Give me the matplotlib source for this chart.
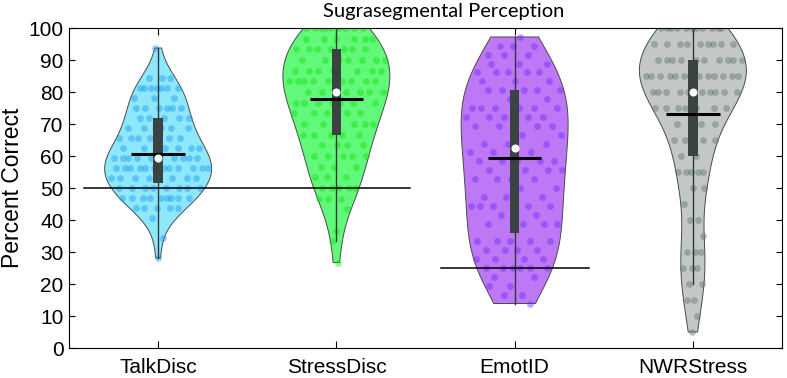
import numpy as np
import matplotlib
matplotlib.use("Agg")
import matplotlib.pyplot as plt

# ---------------- data ----------------
categories = ["TalkDisc", "StressDisc", "EmotID", "NWRStress"]

talk_levels = [93.75, 84.4, 81.25, 78.1, 75.0, 71.9, 68.75, 65.6, 62.5, 59.4, 56.25,
               53.1, 50.0, 46.9, 43.75, 40.6, 34.4, 28.1]
talk_counts = [1, 3, 7, 3, 6, 5, 6, 6, 7, 10, 12, 8, 8, 9, 5, 1, 1, 1]

stress_levels = [100.0, 96.7, 93.3, 90.0, 86.7, 83.3, 80.0, 76.7, 73.3, 70.0, 66.7,
                 63.3, 60.0, 56.7, 53.3, 50.0, 46.7, 43.3, 36.7, 33.3, 26.7]
stress_counts = [9, 6, 7, 7, 7, 10, 6, 7, 5, 6, 5, 4, 5, 3, 3, 5, 3, 1, 1, 1, 1]

emot_levels = [97.2, 94.4, 91.7, 88.9, 86.1, 83.3, 80.6, 77.8, 75.0, 72.2, 69.4, 66.7,
               63.9, 61.1, 58.3, 55.6, 52.8, 50.0, 47.2, 44.4, 41.7, 38.9, 33.3, 30.6,
               27.8, 25.0, 22.2, 19.4, 16.7, 13.9]
emot_counts = [1, 3, 3, 3, 5, 3, 5, 2, 6, 5, 5, 2, 3, 3, 5, 4, 4, 2, 3, 6, 2, 4, 5, 4,
               4, 6, 2, 2, 2, 1]

nwr_levels = [100, 95, 90, 85, 80, 75, 70, 65, 60, 55, 50, 45, 40, 35, 30, 25, 20, 15, 10, 5]
nwr_counts = [11, 9, 10, 14, 10, 7, 4, 4, 2, 5, 2, 1, 2, 1, 3, 3, 2, 2, 1, 1]

means = [60.7, 77.7, 59.4, 73.0]
medians = [59.4, 80.0, 62.5, 80.0]
q1 = [51.5, 66.5, 36.0, 60.0]
q3 = [72.0, 93.3, 80.5, 90.0]
whisker_lo = [28.1, 33.3, 13.9, 20.0]
whisker_hi = [93.75, 100.0, 97.2, 100.0]

# chance levels: (level, first category index, last category index)
chance_level = [50, 25]
chance_first = [0, 2]
chance_last = [1, 2]

yticks = list(range(0, 101, 10))
title = "Sugrasegmental Perception"
ylabel = "Percent Correct"

# ---------------- style ----------------
fill_colors = ["#8ee8fc", "#62f97a", "#be78f5", "#c3c8c5"]
point_colors = ["#1a96f0", "#10e010", "#6a28ff", "#5a706b"]

level_sets = [talk_levels, stress_levels, emot_levels, nwr_levels]
count_sets = [talk_counts, stress_counts, emot_counts, nwr_counts]

plt.rcParams["font.family"] = ["Liberation Sans", "DejaVu Sans"]

fig = plt.figure(figsize=(7.87, 3.78), dpi=100)
ax = fig.add_axes([69 / 787, 30 / 378, (782 - 69) / 787, (348 - 28) / 378])

half_width = 0.30
for i, (lv, ct) in enumerate(zip(level_sets, count_sets)):
    pos = i + 1
    data = np.repeat(np.array(lv, float), ct)
    n = len(data)
    med = np.median(data)
    sig = np.median(np.abs(data - med)) / 0.6745
    h = sig * (4.0 / (3.0 * n)) ** 0.2
    grid = np.linspace(data.min(), data.max(), 300)
    dens = np.exp(-0.5 * ((grid[:, None] - data[None, :]) / h) ** 2).sum(axis=1)
    dens = dens / dens.max() * half_width
    xs = np.concatenate([pos + dens, (pos - dens)[::-1]])
    ys = np.concatenate([grid, grid[::-1]])
    ax.fill(xs, ys, facecolor=fill_colors[i], edgecolor="#4a4a4a", linewidth=0.7, zorder=1)

    # deterministic jitter inside the violin
    k = np.arange(n)
    u = (np.mod(k * 0.6180339887 + 0.31 * i, 1.0) * 2 - 1)
    local = np.interp(data, grid, dens)
    ax.scatter(pos + u * local * 0.95, data, s=24, color=point_colors[i], alpha=0.42,
               linewidths=0, zorder=2)

    # whisker line
    ax.plot([pos, pos], [whisker_lo[i], whisker_hi[i]], color="#2e3838", lw=1.0, zorder=3)
    # box (IQR)
    ax.fill_between([pos - 0.026, pos + 0.026], q1[i], q3[i], color="#3a4242",
                    linewidth=0, zorder=4)
    # mean
    ax.plot([pos - 0.15, pos + 0.15], [means[i], means[i]], color="black", lw=2.2,
            solid_capstyle="butt", zorder=5)
    # median
    ax.plot([pos], [medians[i]], "o", color="white", markersize=5.8,
            markeredgewidth=0, zorder=6)

for lvl, a, b in zip(chance_level, chance_first, chance_last):
    ax.plot([a + 1 - 0.415, b + 1 + 0.415], [lvl, lvl], color="black", lw=1.1, zorder=3.5)

ax.set_xlim(0.5, 4.5)
ax.set_ylim(0, 100)
ax.set_xticks(range(1, len(categories) + 1))
ax.set_xticklabels(categories, fontsize=15)
ax.set_yticks(yticks)
ax.set_yticklabels([str(t) for t in yticks], fontsize=15)
ax.tick_params(axis="y", direction="in", length=4, width=0.8, right=True, pad=4)
ax.tick_params(axis="x", direction="in", length=5, width=0.8, top=True, pad=7)
for sp in ax.spines.values():
    sp.set_linewidth(0.8)
    sp.set_color("black")
ax.set_ylabel(ylabel, fontsize=16.5, labelpad=3)

fig.text(444 / 787, 1 - 11 / 378, title, fontsize=14.5, family=["Lato", "DejaVu Sans"],
         ha="center", va="center")

fig.savefig("out.png", dpi=100)
